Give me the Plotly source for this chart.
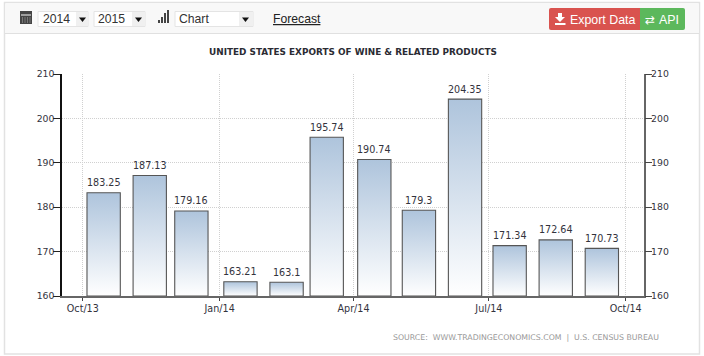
import pandas as pd
import plotly.graph_objects as go

months = ["2013-10-15", "2013-11-15", "2013-12-13", "2014-01-15", "2014-02-15", "2014-03-14",
          "2014-04-15", "2014-05-15", "2014-06-15", "2014-07-15", "2014-08-15", "2014-09-15"]
values = [183.25, 187.13, 179.16, 163.21, 163.1, 195.74, 190.74, 179.3, 204.35, 171.34, 172.64, 170.73]
labels = ["183.25", "187.13", "179.16", "163.21", "163.1", "195.74", "190.74", "179.3", "204.35", "171.34", "172.64", "170.73"]
x_tick_dates = ["2013-10-01", "2014-01-01", "2014-04-01", "2014-07-01", "2014-10-01"]
x_tick_labels = ["Oct/13", "Jan/14", "Apr/14", "Jul/14", "Oct/14"]
y_ticks = [160, 170, 180, 190, 200, 210]

W, H = 704, 356
BAR_DAYS = 22.4
CHART_FONT = "DejaVu Sans"
UI_FONT = "Liberation Sans"
INK = "#33333d"
AX = "#666666"
GRID = "#d0d0d0"

fx = lambda p: p / W
fy = lambda p: 1 - p / H

fig = go.Figure()

half = pd.Timedelta(days=BAR_DAYS / 2)
fig.add_trace(go.Bar(
    x=months, y=values, width=BAR_DAYS * 86400000, cliponaxis=False,
    marker=dict(color="white", line=dict(color="#555555", width=0)),
    showlegend=False, hoverinfo="x+y",
))
for m, v in zip(months, values):
    c = pd.Timestamp(m)
    xs = [c - half, c - half, c + half, c + half, c - half]
    fig.add_trace(go.Scatter(
        x=xs, y=[160, v, v, 160, 160], mode="lines", fill="toself",
        line=dict(color="#555555", width=1.1),
        fillgradient=dict(type="vertical", colorscale=[[0, "#ffffff"], [1, "#aec4dc"]]),
        showlegend=False, hoverinfo="skip",
    ))
# right-hand axis carrier
fig.add_trace(go.Scatter(x=[months[0]], y=[values[0]], yaxis="y2", mode="markers",
                         marker=dict(opacity=0), showlegend=False, hoverinfo="skip"))

shapes = []
def rect(x0, y0, x1, y1, fill, line=None, lw=1):
    shapes.append(dict(type="rect", xref="paper", yref="paper", layer="below",
                       x0=fx(x0), x1=fx(x1), y0=fy(y0), y1=fy(y1), fillcolor=fill,
                       line=dict(color=line or fill, width=lw if line else 0)))
def path(points, fill, layer="above"):
    d = "M " + " L ".join(f"{fx(a):.5f},{fy(b):.5f}" for a, b in points) + " Z"
    shapes.append(dict(type="path", xref="paper", yref="paper", path=d, fillcolor=fill,
                       layer=layer, line=dict(width=0)))

rect(4.5, 2.5, 699.5, 354, "white", "#e2e2e2", 1.5)
rect(5.5, 3.5, 698.5, 33, "#f8f8f8", "#f8f8f8", 0)
rect(5, 33, 699, 34, "#e0e0e0")

def select(x0, x1, btn):
    rect(x0, 11.5, x1, 26.5, "#ffffff", "#e4e4e4", 1)
    rect(btn, 12, x1, 26, "#f0f0f0")
    path([(btn + 3, 17.5), (btn + 10, 17.5), (btn + 6.5, 22)], "#111111")
select(38, 88, 76)
select(94, 145, 132)
select(175, 253, 239)

# calendar icon
rect(20, 11, 32, 24, "#444444")
rect(21, 14.5, 31, 15.5, "#f8f8f8")
for cx in (22, 24.5, 27, 29.5):
    rect(cx, 17, cx + 1, 23, "#777777")
# bar-chart icon
for cx, top in ((158, 20), (161, 17), (164, 13), (167, 10)):
    rect(cx, top, cx + 2, 23, "#444444")

# buttons
shapes.append(dict(type="path", xref="paper", yref="paper", layer="below", line=dict(width=0), fillcolor="#d9534f",
                   path=f"M {fx(551)},{fy(8)} L {fx(640)},{fy(8)} L {fx(640)},{fy(30)} L {fx(551)},{fy(30)} Q {fx(549)},{fy(30)} {fx(549)},{fy(28)} L {fx(549)},{fy(10)} Q {fx(549)},{fy(8)} {fx(551)},{fy(8)} Z"))
shapes.append(dict(type="path", xref="paper", yref="paper", layer="below", line=dict(width=0), fillcolor="#5cb85c",
                   path=f"M {fx(640)},{fy(8)} L {fx(683)},{fy(8)} Q {fx(685)},{fy(8)} {fx(685)},{fy(10)} L {fx(685)},{fy(28)} Q {fx(685)},{fy(30)} {fx(683)},{fy(30)} L {fx(640)},{fy(30)} Z"))
path([(558, 13), (562, 13), (562, 17), (565, 17), (560, 22), (555, 17), (558, 17)], "white")
rect(555, 23, 565.5, 25, "white")
shapes[-1]["layer"] = "above"

annotations = []
def text(x, y, s, size, color="#333333", family=UI_FONT, anchor="left"):
    annotations.append(dict(xref="paper", yref="paper", x=fx(x), y=fy(y), text=s, showarrow=False,
                            xanchor=anchor, yanchor="middle", align=anchor,
                            font=dict(family=family, size=size, color=color)))
text(41, 19, "2014", 12.2)
text(96, 19, "2015", 12.2)
text(177, 19, "Chart", 12.2)
text(271, 19, "<u>Forecast</u>", 12.2, "#222222")
text(568, 19.5, "Export Data", 12.4, "white")
text(643, 19.5, "⇄", 12, "white", "DejaVu Sans")
text(657, 19.5, "API", 12.4, "white")
text(352.5, 52, "<b>UNITED STATES EXPORTS OF WINE &amp; RELATED PRODUCTS</b>", 8.9, "#2b2b33", CHART_FONT, "center")
text(661, 337, "SOURCE:  WWW.TRADINGECONOMICS.COM  |  U.S. CENSUS BUREAU", 7.8, "#999999", CHART_FONT, "right")

for m, v, lab in zip(months, values, labels):
    annotations.append(dict(xref="x", yref="y", x=m, y=v, text=lab, showarrow=False,
                            xanchor="center", yanchor="bottom", yshift=2.5,
                            font=dict(family=CHART_FONT, size=9.6, color=INK)))

fig.update_layout(
    width=W, height=H, autosize=False,
    margin=dict(l=0, r=0, t=0, b=0, pad=0, autoexpand=False),
    paper_bgcolor="white", plot_bgcolor="rgba(0,0,0,0)",
    showlegend=False, bargap=0,
    shapes=shapes, annotations=annotations,
    xaxis=dict(
        domain=[fx(62), fx(643.5)], type="date", range=["2013-09-17", "2014-10-13"],
        tickmode="array", tickvals=x_tick_dates, ticktext=x_tick_labels,
        ticks="outside", ticklen=3, tickcolor="#444444", tickwidth=1,
        showgrid=True, gridcolor=GRID, griddash="1px,1px", gridwidth=1,
        showline=True, linecolor=AX, linewidth=1.5, zeroline=False,
        tickfont=dict(family=CHART_FONT, size=9.6, color=INK),
    ),
    yaxis=dict(
        domain=[fy(296), fy(74)], range=[160, 210], tickmode="array", tickvals=y_ticks,
        ticks="outside", ticklen=7, tickcolor="#222222", tickwidth=1, ticklabelstandoff=-3,
        showgrid=True, gridcolor=GRID, griddash="1px,1px", gridwidth=1,
        showline=True, linecolor="#111111", linewidth=1.5, zeroline=False,
        tickfont=dict(family=CHART_FONT, size=9.3, color=INK),
    ),
    yaxis2=dict(
        overlaying="y", side="right", range=[160, 210], tickmode="array", tickvals=y_ticks,
        ticks="outside", ticklen=7, tickcolor="#444444", tickwidth=1, ticklabelstandoff=-3,
        showgrid=False, showline=True, linecolor=AX, linewidth=1.5, zeroline=False,
        anchor="x", tickfont=dict(family=CHART_FONT, size=9.3, color=INK),
    ),
)

fig.write_html("out.html", config=dict(displayModeBar=False),
               post_script="document.body.style.margin='0';document.documentElement.style.overflow='hidden';")
